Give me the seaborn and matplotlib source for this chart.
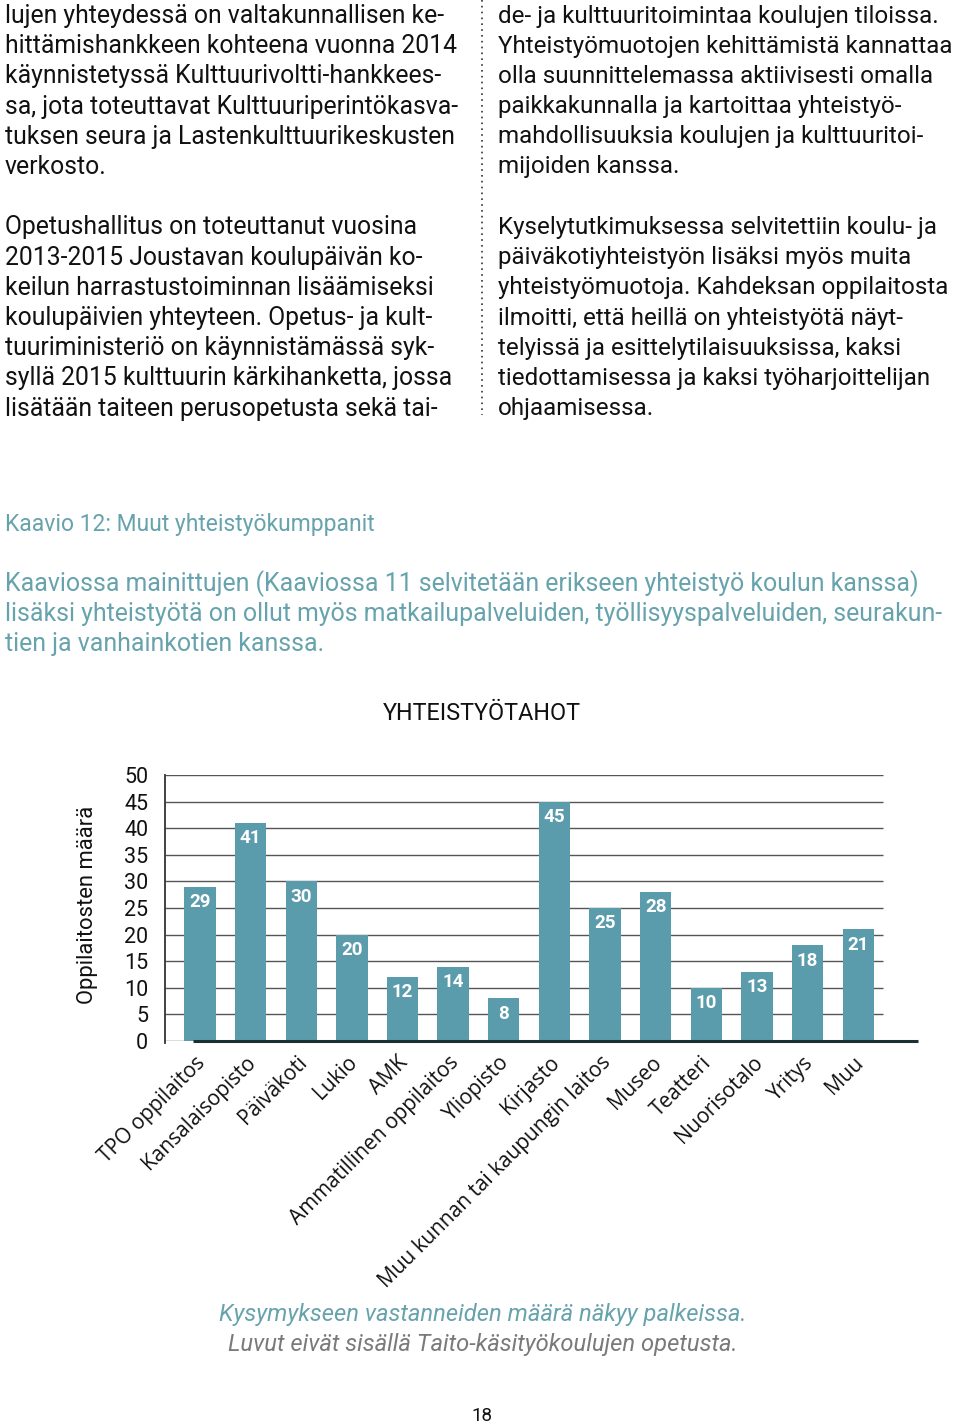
import matplotlib
matplotlib.use("Agg")
import matplotlib.pyplot as plt
import matplotlib.transforms as mtransforms
import seaborn as sns
from matplotlib.lines import Line2D

# chart data
categories = ["TPO oppilaitos", "Kansalaisopisto", "Päiväkoti", "Lukio", "AMK",
              "Ammatillinen oppilaitos", "Yliopisto", "Kirjasto",
              "Muu kunnan tai kaupungin laitos", "Museo", "Teatteri",
              "Nuorisotalo", "Yritys", "Muu"]
values = [29, 41, 30, 20, 12, 14, 8, 45, 25, 28, 10, 13, 18, 21]
yticks = [0, 5, 10, 15, 20, 25, 30, 35, 40, 45, 50]

# page text
left_col = [
    "lujen yhteydessä on valtakunnallisen ke-",
    "hittämishankkeen kohteena vuonna 2014",
    "käynnistetyssä Kulttuurivoltti-hankkees-",
    "sa, jota toteuttavat Kulttuuriperintökasva-",
    "tuksen seura ja Lastenkulttuurikeskusten",
    "verkosto.",
    "",
    "Opetushallitus on toteuttanut vuosina",
    "2013-2015 Joustavan koulupäivän ko-",
    "keilun harrastustoiminnan lisäämiseksi",
    "koulupäivien yhteyteen. Opetus- ja kult-",
    "tuuriministeriö on käynnistämässä syk-",
    "syllä 2015 kulttuurin kärkihanketta, jossa",
    "lisätään taiteen perusopetusta sekä tai-",
]
right_col = [
    "de- ja kulttuuritoimintaa koulujen tiloissa.",
    "Yhteistyömuotojen kehittämistä kannattaa",
    "olla suunnittelemassa aktiivisesti omalla",
    "paikkakunnalla ja kartoittaa yhteistyö-",
    "mahdollisuuksia koulujen ja kulttuuritoi-",
    "mijoiden kanssa.",
    "",
    "Kyselytutkimuksessa selvitettiin koulu- ja",
    "päiväkotiyhteistyön lisäksi myös muita",
    "yhteistyömuotoja. Kahdeksan oppilaitosta",
    "ilmoitti, että heillä on yhteistyötä näyt-",
    "telyissä ja esittelytilaisuuksissa, kaksi",
    "tiedottamisessa ja kaksi työharjoittelijan",
    "ohjaamisessa.",
]
caption_title = "Kaavio 12: Muut yhteistyökumppanit"
caption_text = [
    "Kaaviossa mainittujen (Kaaviossa 11 selvitetään erikseen yhteistyö koulun kanssa)",
    "lisäksi yhteistyötä on ollut myös matkailupalveluiden, työllisyyspalveluiden, seurakun-",
    "tien ja vanhainkotien kanssa.",
]
chart_title = "YHTEISTYÖTAHOT"
ylabel = "Oppilaitosten määrä"
note1 = "Kysymykseen vastanneiden määrä näkyy palkeissa."
note2 = "Luvut eivät sisällä Taito-käsityökoulujen opetusta."
page_no = "18"

bar_color = "#5b9cac"
teal = "#67a3ad"
W, H = 960, 1428

sns.set_theme(style="white")
plt.rcParams["font.family"] = ["Roboto", "DejaVu Sans"]

fig = plt.figure(figsize=(W / 100, H / 100), dpi=100)


def px(x, y):
    return x / W, 1 - y / H


# body text columns
for i, line in enumerate(left_col):
    fig.text(*px(5, 16 + i * 30.2), line, fontsize=17.8, color="#111111",
             va="center", ha="left")
for i, line in enumerate(right_col):
    fig.text(*px(498, 16 + i * 30.2), line, fontsize=17.4, color="#111111",
             va="center", ha="left")
fig.add_artist(Line2D([482 / W, 482 / W], [1, 1 - 415 / H], color="#333333",
                      linestyle=(0, (1, 2.5)), linewidth=1.2))

# caption
fig.text(*px(5, 524), caption_title, fontsize=16.5, color=teal, va="center")
for i, line in enumerate(caption_text):
    fig.text(*px(5, 584 + i * 30), line, fontsize=17.9, color=teal, va="center")

fig.text(*px(482, 714), chart_title, fontsize=16.8, color="#111111",
         ha="center", va="center")

# chart
ax = fig.add_axes([165 / W, 1 - 1041 / H, (918 - 165) / W, (1041 - 775) / H])
sns.barplot(x=categories, y=values, color=bar_color, width=0.62,
            saturation=1, linewidth=0, ax=ax, zorder=3)
ax.set_xlim(-0.69, 14.18)
ax.set_ylim(0, 50)
ax.set_yticks(yticks)
ax.hlines(yticks, -0.69, 13.48, color="#555555", linewidth=1, zorder=1)
ax.hlines(0, -0.14, 14.18, color="#1c2f33", linewidth=2.2, zorder=4, clip_on=False)

for i, v in enumerate(values):
    ax.annotate(str(v), (i, v), xytext=(0, -11), textcoords="offset points",
                ha="center", va="center", color="white", fontsize=13.5,
                fontweight="bold", zorder=5)

for s in ["top", "right", "bottom"]:
    ax.spines[s].set_visible(False)
ax.spines["left"].set_color("#333333")
ax.spines["left"].set_linewidth(1.3)
ax.spines["left"].set_bounds(-0.4, 50)
ax.tick_params(axis="y", length=5, width=1, color="#555555", pad=7,
               labelsize=15.5, labelcolor="#111111")
ax.tick_params(axis="x", length=0, pad=8)
ax.set_xlabel("")
ax.set_ylabel("")
shift = mtransforms.ScaledTranslation(-5 / 100, 0, fig.dpi_scale_trans)
for lbl in ax.get_xticklabels():
    lbl.set_rotation(45)
    lbl.set_ha("right")
    lbl.set_va("top")
    lbl.set_rotation_mode("anchor")
    lbl.set_fontsize(15)
    lbl.set_family(["Open Sans", "DejaVu Sans"])
    lbl.set_color("#111111")
    lbl.set_transform(lbl.get_transform() + shift)

fig.text(*px(87, 905), ylabel, rotation=90, fontsize=15.8, color="#111111",
         ha="center", va="center")

# notes
fig.text(*px(483, 1315), note1, fontsize=17.1, color=teal, style="italic",
         ha="center", va="center")
fig.text(*px(483, 1345), note2, fontsize=17.1, color="#7a7a7a", style="italic",
         ha="center", va="center")
fig.text(*px(482, 1416), page_no, fontsize=13.5, color="#111111",
         ha="center", va="center")

fig.savefig("out.png", dpi=100)
